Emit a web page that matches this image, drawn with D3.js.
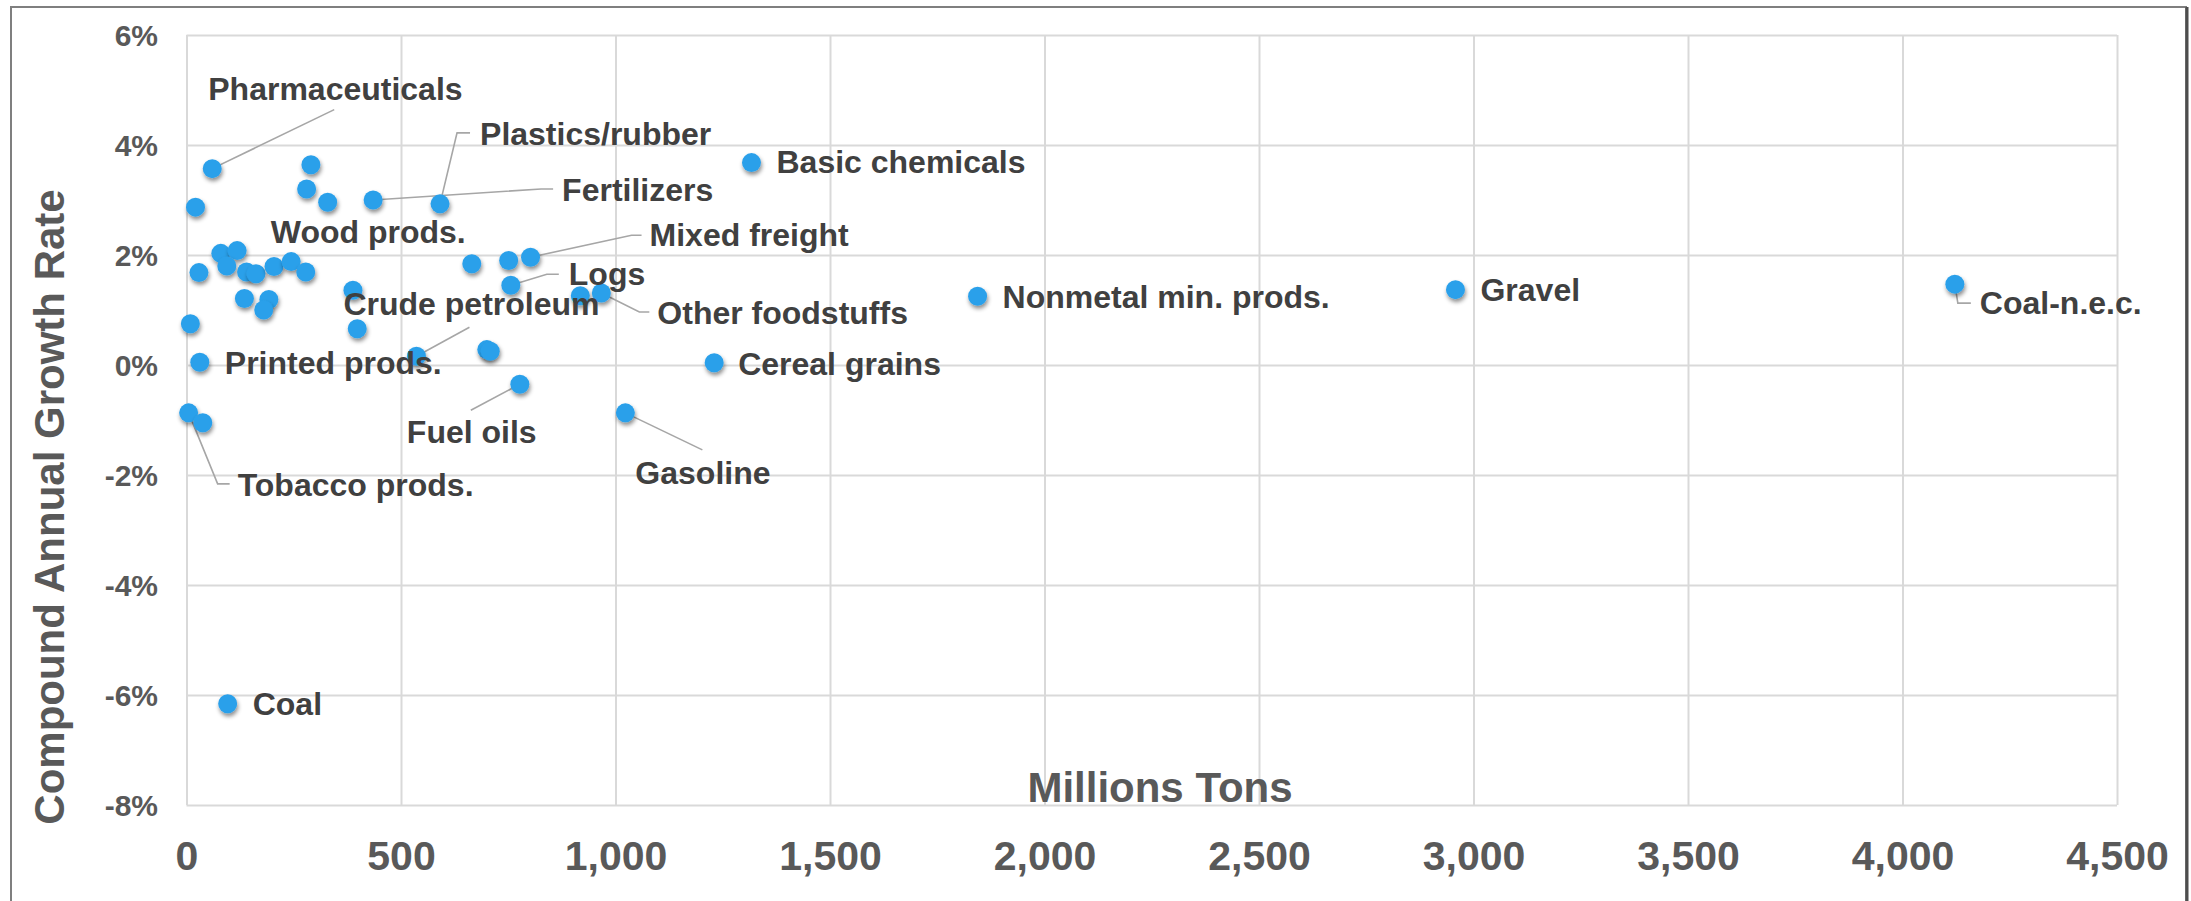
<!DOCTYPE html>
<html>
<head>
<meta charset="utf-8">
<script src="https://cdn.jsdelivr.net/npm/d3@7"></script>
<style>
  html, body { margin: 0; padding: 0; background: #fff; }
  svg { display: block; font-family: "Liberation Sans", Arial, sans-serif; font-weight: bold; }
</style>
</head>
<body>
<svg id="chart" width="2191" height="901"></svg>
<script>
// Freight commodities: tonnage (millions of tons) vs. compound annual growth rate
const commodities = [
  "Pharmaceuticals", "", "", "", "Fertilizers", "Plastics/rubber", "", "", "", "",
  "", "", "", "", "", "Wood prods.", "", "", "", "",
  "", "", "Printed prods.", "Crude petroleum", "", "", "Fuel oils", "", "", "Mixed freight",
  "Logs", "", "Other foodstuffs", "Tobacco prods.", "", "Gasoline", "Basic chemicals",
  "Nonmetal min. prods.", "Cereal grains", "Gravel", "Coal-n.e.c.", "Coal"
];
const tons = [
  60, 290, 280, 329, 435, 591, 21, 80, 118, 94,
  29, 140, 162, 204, 244, 278, 135, 192, 180, 388,
  9, 398, 31, 536, 700, 708, 777, 665, 751, 802,
  756, 918, 967, 5, 38, 1023, 1317,
  1844, 1230, 2958, 4122, 96
];
const growth = [
  0.0357, 0.0364, 0.0320, 0.0296, 0.0300, 0.0293, 0.0287, 0.0203, 0.0208, 0.0180,
  0.0168, 0.0169, 0.0166, 0.0179, 0.0188, 0.0169, 0.0121, 0.0119, 0.0100, 0.0136,
  0.0075, 0.0066, 0.0005, 0.0016, 0.0028, 0.0025, -0.0035, 0.0184, 0.0190, 0.0196,
  0.0145, 0.0126, 0.0131, -0.0087, -0.0105, -0.0087, 0.0368,
  0.0125, 0.0004, 0.0137, 0.0147, -0.0616
];
const xTicks = [0, 500, 1000, 1500, 2000, 2500, 3000, 3500, 4000, 4500];
const yTicks = [-0.08, -0.06, -0.04, -0.02, 0, 0.02, 0.04, 0.06];

// Label placement relative to each point (pixels) and optional leader-line elbows
const labelLayout = {
  "Pharmaceuticals":      { dx: -4,   dy: -69, leader: [[122, -59]] },
  "Plastics/rubber":      { dx: 40,   dy: -59, leader: [[17, -71], [30, -71]] },
  "Fertilizers":          { dx: 189,  dy: 1,   leader: [[168, -11], [180, -11]] },
  "Wood prods.":          { dx: -35,  dy: -29 },
  "Mixed freight":        { dx: 119,  dy: -11, leader: [[101, -22], [111, -22]] },
  "Logs":                 { dx: 58,   dy: 0,   leader: [[36, -11], [48, -11]] },
  "Other foodstuffs":     { dx: 56,   dy: 31,  leader: [[38, 19], [48, 19]] },
  "Crude petroleum":      { dx: -73,  dy: -41, leader: [[53, -29]] },
  "Printed prods.":       { dx: 25,   dy: 12 },
  "Fuel oils":            { dx: -113, dy: 59,  leader: [[-49, 26]] },
  "Gasoline":             { dx: 10,   dy: 71,  leader: [[77, 37]] },
  "Tobacco prods.":       { dx: 49,   dy: 83,  leader: [[29, 71], [41, 71]] },
  "Coal":                 { dx: 25,   dy: 11 },
  "Basic chemicals":      { dx: 25,   dy: 10 },
  "Nonmetal min. prods.": { dx: 25,   dy: 12 },
  "Cereal grains":        { dx: 24,   dy: 12 },
  "Gravel":               { dx: 25,   dy: 11 },
  "Coal-n.e.c.":          { dx: 25,   dy: 30,  leader: [[3, 19], [16, 19]] }
};

const data = tons.map((t, i) => ({ name: commodities[i], tons: t, growth: growth[i] }));

const svg = d3.select("#chart");
const plot = { left: 186.5, right: 2117, top: 35, bottom: 805 };

const x = d3.scaleLinear().domain([0, 4500]).range([plot.left, plot.right]);
const y = d3.scaleLinear().domain([-0.08, 0.06]).range([plot.bottom, plot.top]);

// drop shadow for markers
const defs = svg.append("defs");
const f = defs.append("filter").attr("id", "shadow")
  .attr("x", "-50%").attr("y", "-50%").attr("width", "200%").attr("height", "200%");
f.append("feDropShadow").attr("dx", 1).attr("dy", 3).attr("stdDeviation", 2)
  .attr("flood-color", "#000").attr("flood-opacity", 0.45);

// chart frame, with a darker right edge
svg.append("rect")
  .attr("x", 11).attr("y", 7).attr("width", 2175).attr("height", 1000)
  .attr("fill", "#fff").attr("stroke", "#7f7f7f").attr("stroke-width", 2);
svg.append("line")
  .attr("x1", 2187).attr("x2", 2187).attr("y1", 7).attr("y2", 901)
  .attr("stroke", "#4d4d4d").attr("stroke-width", 3);

// vertical gridlines + x tick labels
const xAxis = svg.append("g")
  .attr("transform", `translate(0,${plot.bottom})`)
  .call(d3.axisBottom(x).tickValues(xTicks).tickFormat(d3.format(","))
    .tickSize(-(plot.bottom - plot.top)).tickPadding(0));
xAxis.select(".domain").remove();
xAxis.selectAll(".tick line").attr("stroke", "#d9d9d9").attr("stroke-width", 2);
xAxis.selectAll(".tick text")
  .attr("y", 65).attr("dy", null)
  .attr("fill", "#595959").attr("font-size", 41).attr("font-family", null);

// horizontal gridlines + y tick labels
const yAxis = svg.append("g")
  .attr("transform", `translate(${plot.left},0)`)
  .call(d3.axisLeft(y).tickValues(yTicks).tickFormat(d => Math.round(d * 100) + "%")
    .tickSize(-(plot.right - plot.left)).tickPadding(0));
yAxis.select(".domain").remove();
yAxis.selectAll(".tick line").attr("stroke", "#d9d9d9").attr("stroke-width", 2);
yAxis.selectAll(".tick text")
  .attr("x", 158 - plot.left).attr("dy", "0.36em")
  .attr("fill", "#595959").attr("font-size", 30).attr("font-family", null);

// axis titles
svg.append("text")
  .attr("x", 1160).attr("y", 802)
  .attr("text-anchor", "middle")
  .attr("fill", "#595959").attr("font-size", 42)
  .text("Millions Tons");

svg.append("text")
  .attr("transform", "translate(64,507) rotate(-90)")
  .attr("text-anchor", "middle")
  .attr("fill", "#595959").attr("font-size", 42)
  .text("Compound Annual Growth Rate");

// leader lines
const labelled = data.filter(d => d.name && labelLayout[d.name]);
svg.append("g").selectAll("polyline")
  .data(labelled.filter(d => labelLayout[d.name].leader))
  .join("polyline")
  .attr("points", d => {
    const px = x(d.tons), py = y(d.growth);
    return [[px, py], ...labelLayout[d.name].leader.map(([a, b]) => [px + a, py + b])]
      .map(p => p.join(",")).join(" ");
  })
  .attr("fill", "none").attr("stroke", "#a6a6a6").attr("stroke-width", 1.6);

// markers
svg.append("g").selectAll("circle")
  .data(data)
  .join("circle")
  .attr("cx", d => x(d.tons))
  .attr("cy", d => y(d.growth))
  .attr("r", 9.5)
  .attr("fill", "#2ba0ea")
  .attr("filter", "url(#shadow)");

// data labels
svg.append("g").selectAll("text")
  .data(labelled)
  .join("text")
  .attr("x", d => x(d.tons) + labelLayout[d.name].dx)
  .attr("y", d => y(d.growth) + labelLayout[d.name].dy)
  .attr("fill", "#404040").attr("font-size", 32)
  .text(d => d.name);
</script>
</body>
</html>
